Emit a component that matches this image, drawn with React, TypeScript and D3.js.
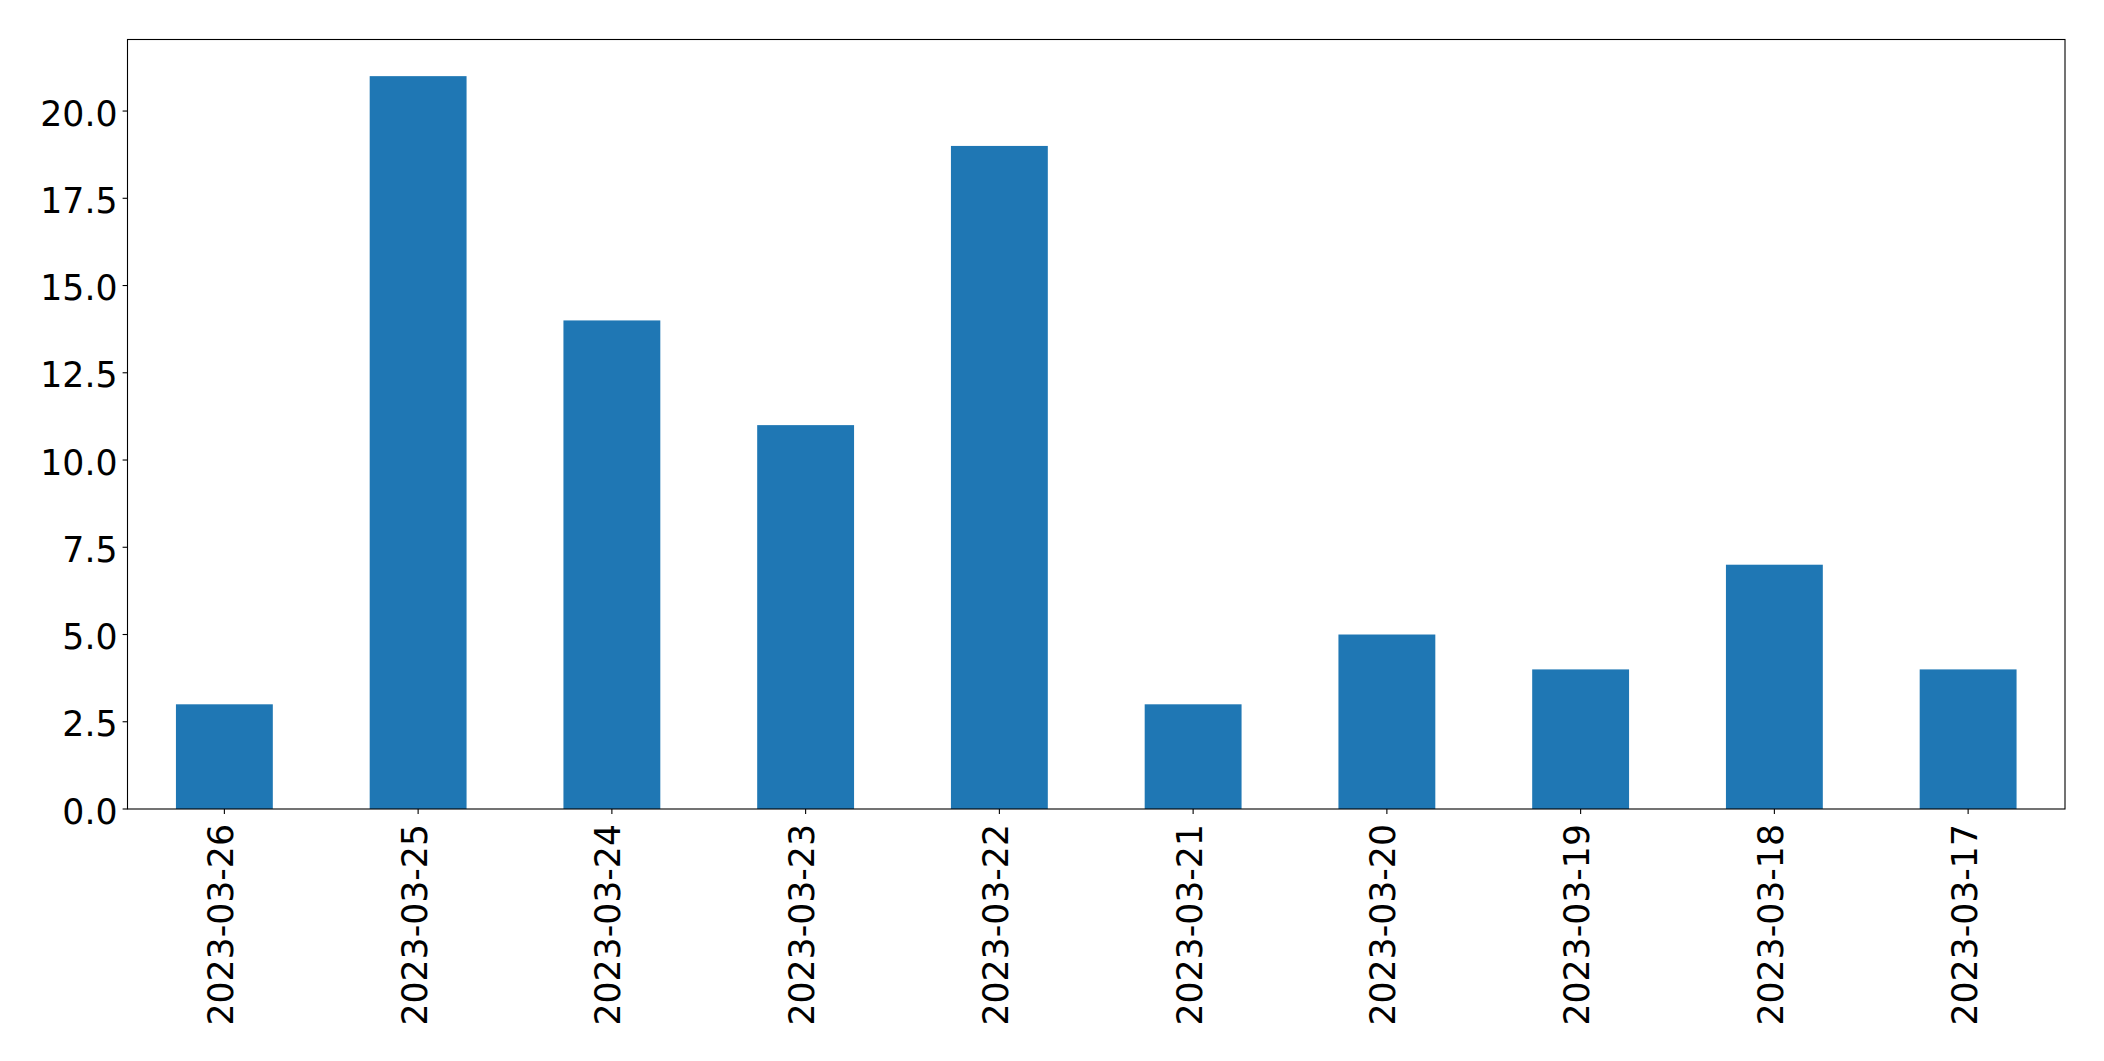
import React from "react";
import * as d3 from "d3";

const categories: string[] = [
  "2023-03-26", "2023-03-25", "2023-03-24", "2023-03-23", "2023-03-22",
  "2023-03-21", "2023-03-20", "2023-03-19", "2023-03-18", "2023-03-17",
];
const values: number[] = [3, 21, 14, 11, 19, 3, 5, 4, 7, 4];
const yTicks: number[] = [0, 2.5, 5, 7.5, 10, 12.5, 15, 17.5, 20];

const W = 2104;
const H = 1061;
const left = 127.5;
const right = 2065;
const top = 39.5;
const bottom = 809;
const font = "'DejaVu Sans', sans-serif";
const fs = 34.7;

export default function App() {
  const x = d3.scaleBand<string>().domain(categories).range([left, right]).paddingInner(0.5).paddingOuter(0.25);
  const y = d3.scaleLinear().domain([0, (d3.max(values) as number) * 1.05]).range([bottom, top]);
  const fmt = d3.format(".1f");
  return (
    <svg width={W} height={H} style={{ position: "absolute", left: 0, top: 0, background: "#fff" }}>
      <rect x={0} y={0} width={W} height={H} fill="#fff" />
      {values.map((v, i) => (
        <rect key={i} x={x(categories[i])} y={y(v)} width={x.bandwidth()} height={y(0) - y(v)} fill="#1f77b4" />
      ))}
      <rect x={left} y={top} width={right - left} height={bottom - top} fill="none" stroke="#000" strokeWidth={1.1} />
      {yTicks.map((t) => (
        <g key={t}>
          <line x1={left - 4.9} x2={left} y1={y(t)} y2={y(t)} stroke="#000" strokeWidth={1.1} />
          <text x={left - 10} y={y(t) + 14.5} textAnchor="end" fontFamily={font} fontSize={fs} fill="#000">
            {fmt(t)}
          </text>
        </g>
      ))}
      {categories.map((c) => {
        const cx = (x(c) as number) + x.bandwidth() / 2;
        return (
          <g key={c}>
            <line x1={cx} x2={cx} y1={bottom} y2={bottom + 4.9} stroke="#000" strokeWidth={1.1} />
            <text
              transform={`translate(${cx + 8.5},${bottom + 15}) rotate(-90)`}
              textAnchor="end"
              fontFamily={font}
              fontSize={fs}
              fill="#000"
            >
              {c}
            </text>
          </g>
        );
      })}
    </svg>
  );
}
